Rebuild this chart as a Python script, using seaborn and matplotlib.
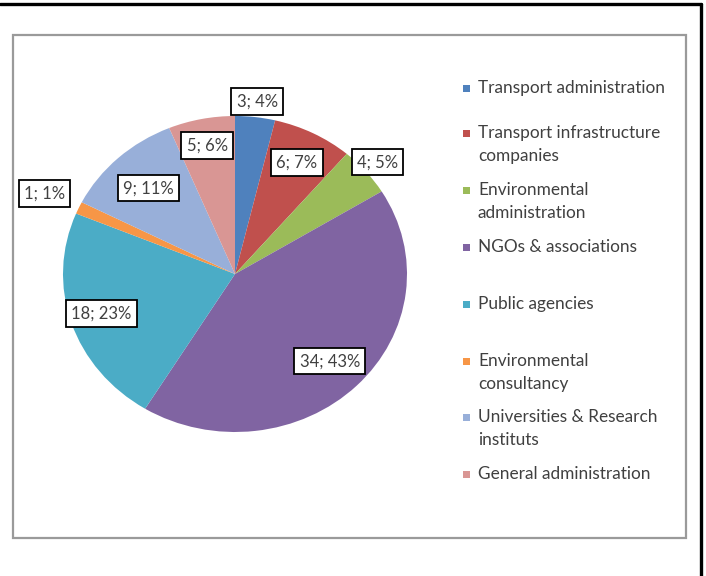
import numpy as np
import matplotlib
matplotlib.use("Agg")
import matplotlib.pyplot as plt
from matplotlib.lines import Line2D
from matplotlib.patches import Rectangle
import seaborn as sns

# Respondents by type of organisation
categories = [
    "Transport administration",
    "Transport infrastructure\ncompanies",
    "Environmental\nadministration",
    "NGOs & associations",
    "Public agencies",
    "Environmental\nconsultancy",
    "Universities & Research\ninstituts",
    "General administration",
]
counts = [3, 6, 4, 34, 18, 1, 9, 5]
percents = [4, 7, 5, 43, 23, 1, 11, 6]
colors = ["#4F81BD", "#C0504D", "#9BBB59", "#8064A2",
          "#4BACC6", "#F79646", "#98AFD9", "#D99694"]

sns.set_theme(style="white")
plt.rcParams["font.family"] = ["Lato", "DejaVu Sans"]

W, H = 706, 576
fig = plt.figure(figsize=(W / 100, H / 100), dpi=100)
fig.patch.set_facecolor("white")

def fx(px):
    return px / W

def fy(py):
    return 1 - py / H

# outer page rule (top and right)
fig.add_artist(Line2D([0, fx(701)], [fy(4), fy(4)], color="black", lw=2.4,
                      transform=fig.transFigure))
fig.add_artist(Line2D([fx(701), fx(701)], [fy(4), 0], color="black", lw=2.4,
                      transform=fig.transFigure))

# chart area frame
fig.add_artist(Rectangle((fx(13), fy(538)), fx(686) - fx(13), fy(35) - fy(538),
                         transform=fig.transFigure, fill=False,
                         ec="#9a9a9a", lw=1.6))

# pie
ax = fig.add_axes([fx(63), fy(432), fx(407) - fx(63), fy(116) - fy(432)])
wedges, _ = ax.pie(counts, colors=colors, startangle=90, counterclock=False,
                   radius=1.0, wedgeprops=dict(linewidth=0))
ax.set_aspect("auto")
ax.set_xlim(-1, 1)
ax.set_ylim(-1, 1)
ax.axis("off")

# data labels: distance from centre (in radii) for each slice
label_dist = [1.10, 0.79, 1.09, 0.78, 0.815, 1.22, 0.74, 0.83]
for w, n, p, d in zip(wedges, counts, percents, label_dist):
    mid = np.deg2rad((w.theta1 + w.theta2) / 2)
    ax.text(d * np.cos(mid), d * np.sin(mid), f"{n}; {p}%",
            ha="center", va="center", fontsize=12, color="#404040",
            bbox=dict(boxstyle="square,pad=0.32", fc="white", ec="black",
                      lw=1.3), clip_on=False)

# legend (first line of each entry sits beside its colour key)
legend_y = [88, 133, 190, 247, 304, 361, 417, 474]
line_step = 23
for name, c, y in zip(categories, colors, legend_y):
    fig.add_artist(Rectangle((fx(463), fy(y + 4)), fx(7), fy(y - 3) - fy(y + 4),
                             transform=fig.transFigure, fc=c, ec="none"))
    for i, line in enumerate(name.split("\n")):
        fig.text(fx(478), fy(y + 5 + i * line_step), line, ha="left",
                 va="baseline", fontsize=12.4, color="#404040")

fig.savefig("out.png", dpi=100, facecolor="white")
